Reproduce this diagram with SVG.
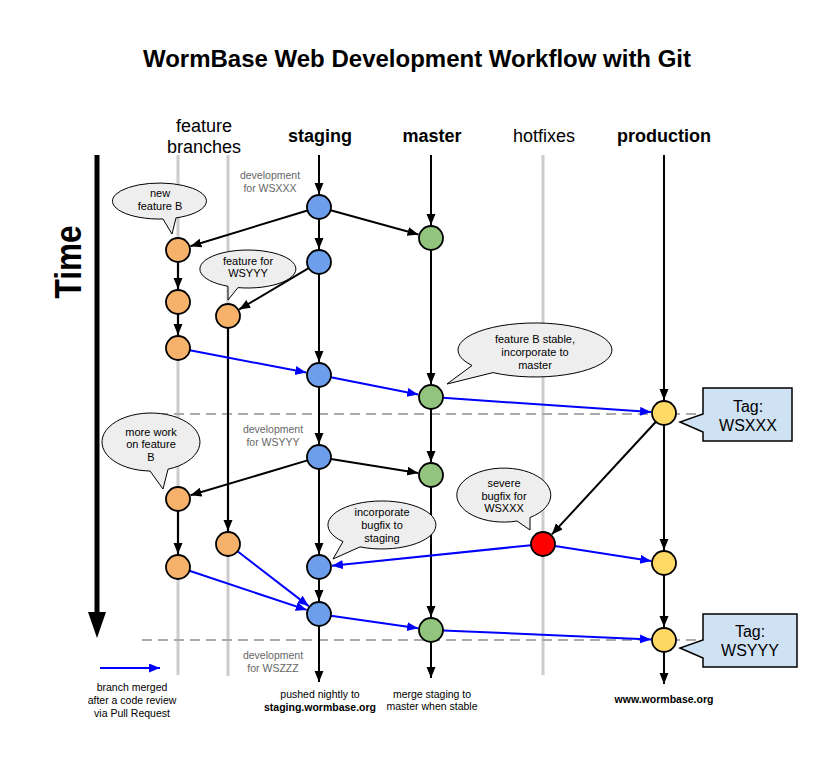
<svg xmlns="http://www.w3.org/2000/svg" width="831" height="759" viewBox="0 0 831 759">
<style>
text{font-family:"Liberation Sans",Arial,sans-serif;}
.title{font-size:24px;font-weight:bold;text-anchor:middle;}
.hdr{font-size:18px;text-anchor:middle;}
.hdrb{font-size:18px;font-weight:bold;text-anchor:middle;}
.dev{font-size:10.5px;fill:#666;text-anchor:middle;}
.small{font-size:10.5px;text-anchor:middle;}
.smallb{font-size:10.5px;font-weight:bold;text-anchor:middle;}
.bt{font-size:11px;text-anchor:middle;}
.tag{font-size:16px;text-anchor:middle;}
.lane{stroke:#cccccc;stroke-width:3;fill:none;}
.sep{stroke:#aaaaaa;stroke-width:2;stroke-dasharray:10,6;fill:none;}
.blk{stroke:#000;stroke-width:2;fill:none;marker-end:url(#ab);}
.blu{stroke:#0000ff;stroke-width:2;fill:none;marker-end:url(#au);}
.n{stroke:#000;stroke-width:1.8;}
.st{fill:#6d9eeb;}
.ma{fill:#93c47d;}
.fe{fill:#f6b26b;}
.pr{fill:#ffd966;}
.hf{fill:#ff0000;}
.bub{fill:#eeeeee;stroke:#000;stroke-width:1;}
.tagbox{fill:#cfe2f3;stroke:#000;stroke-width:1.5;}
</style>
<defs>
<marker id="ab" markerUnits="userSpaceOnUse" markerWidth="12" markerHeight="10" refX="11" refY="4.5" orient="auto"><path d="M0,0 L11,4.5 L0,9 z" fill="#000"/></marker>
<marker id="au" markerUnits="userSpaceOnUse" markerWidth="12" markerHeight="10" refX="11" refY="4.5" orient="auto"><path d="M0,0 L11,4.5 L0,9 z" fill="#0000ff"/></marker>
</defs>
<rect width="831" height="759" fill="#fff"/>
<text class="title" x="417" y="67">WormBase Web Development Workflow with Git</text>
<g id="time-axis">
<line x1="97" y1="155" x2="97" y2="614" stroke="#000" stroke-width="5"/>
<polygon points="88,612 106,612 97,638" fill="#000"/>
<text x="0" y="0" font-size="36" font-weight="bold" textLength="73" lengthAdjust="spacingAndGlyphs" text-anchor="middle" transform="translate(81,262) rotate(-90)">Time</text>
</g>
<g id="headers">
<text class="hdr" x="204" y="132">feature</text>
<text class="hdr" x="204" y="153">branches</text>
<text class="hdrb" x="320" y="142">staging</text>
<text class="hdrb" x="432" y="142">master</text>
<text class="hdr" x="544" y="142">hotfixes</text>
<text class="hdrb" x="664" y="142">production</text>
</g>
<g id="lanes">
<line class="lane" x1="178" y1="155" x2="178" y2="675"/>
<line class="lane" x1="228" y1="155" x2="228" y2="676"/>
<line class="lane" x1="543" y1="155" x2="543" y2="675"/>
<line class="sep" x1="142" y1="414" x2="703" y2="414"/>
<line class="sep" x1="142" y1="640" x2="703" y2="640"/>
</g>
<g id="dev-labels">
<text class="dev" x="270" y="179">development</text>
<text class="dev" x="270" y="192">for WSXXX</text>
<text class="dev" x="273" y="433">development</text>
<text class="dev" x="273" y="446">for WSYYY</text>
<text class="dev" x="273" y="659">development</text>
<text class="dev" x="273" y="672">for WSZZZ</text>
</g>
<g id="connectors">
<line class="blk" x1="319" y1="155" x2="319" y2="194"/>
<line class="blk" x1="431" y1="155" x2="431" y2="225"/>
<line class="blk" x1="664" y1="155" x2="664" y2="400"/>
<line class="blk" x1="319" y1="219" x2="319" y2="249"/>
<line class="blk" x1="319" y1="274" x2="319" y2="362"/>
<line class="blk" x1="319" y1="387" x2="319" y2="444"/>
<line class="blk" x1="319" y1="469" x2="319" y2="554"/>
<line class="blk" x1="319" y1="579" x2="319" y2="601"/>
<line class="blk" x1="319" y1="626" x2="319" y2="682"/>
<line class="blk" x1="330.6" y1="210.2" x2="418.5" y2="234.5"/>
<line class="blk" x1="307.5" y1="210.5" x2="190.4" y2="246.2"/>
<line class="blk" x1="308.7" y1="268.1" x2="239.2" y2="309.4"/>
<line class="blk" x1="178" y1="262" x2="178" y2="289"/>
<line class="blk" x1="178" y1="314" x2="178" y2="335"/>
<line class="blk" x1="228" y1="328" x2="228" y2="531"/>
<line class="blk" x1="431" y1="250" x2="431" y2="384"/>
<line class="blk" x1="431" y1="409" x2="431" y2="462"/>
<line class="blk" x1="431" y1="487" x2="431" y2="617"/>
<line class="blk" x1="431" y1="642" x2="431" y2="678"/>
<line class="blk" x1="330.9" y1="458.9" x2="418.2" y2="472.9"/>
<line class="blk" x1="307.5" y1="460.4" x2="190.5" y2="495.3"/>
<line class="blk" x1="178" y1="511" x2="178" y2="554"/>
<line class="blk" x1="664" y1="425" x2="664" y2="550"/>
<line class="blk" x1="664" y1="575" x2="664" y2="627"/>
<line class="blk" x1="664" y1="652" x2="664" y2="684"/>
<line class="blk" x1="655.9" y1="421.8" x2="551.8" y2="534.4"/>
<line class="blu" x1="189.8" y1="350.3" x2="306.2" y2="372.6"/>
<line class="blu" x1="330.8" y1="377.3" x2="418.2" y2="394.5"/>
<line class="blu" x1="443" y1="397.8" x2="651" y2="412.1"/>
<line class="blu" x1="531.1" y1="545.2" x2="331.9" y2="565.7"/>
<line class="blu" x1="554.9" y1="545.9" x2="651.2" y2="561"/>
<line class="blu" x1="237.5" y1="551.3" x2="308.7" y2="606.1"/>
<line class="blu" x1="189.4" y1="570.8" x2="306.7" y2="609.9"/>
<line class="blu" x1="330.9" y1="615.7" x2="418.1" y2="628.2"/>
<line class="blu" x1="443" y1="630.5" x2="651" y2="639.4"/>
</g>
<g id="n-s1"><circle class="n st" cx="319" cy="207" r="12"/></g>
<g id="n-s2"><circle class="n st" cx="319" cy="262" r="12"/></g>
<g id="n-s3"><circle class="n st" cx="319" cy="375" r="12"/></g>
<g id="n-s4"><circle class="n st" cx="319" cy="457" r="12"/></g>
<g id="n-s5"><circle class="n st" cx="319" cy="567" r="12"/></g>
<g id="n-s6"><circle class="n st" cx="319" cy="614" r="12"/></g>
<g id="n-m1"><circle class="n ma" cx="431" cy="238" r="12"/></g>
<g id="n-m2"><circle class="n ma" cx="431" cy="397" r="12"/></g>
<g id="n-m3"><circle class="n ma" cx="431" cy="475" r="12"/></g>
<g id="n-m4"><circle class="n ma" cx="431" cy="630" r="12"/></g>
<g id="n-f1"><circle class="n fe" cx="178" cy="250" r="12"/></g>
<g id="n-f2"><circle class="n fe" cx="178" cy="302" r="12"/></g>
<g id="n-f3"><circle class="n fe" cx="178" cy="348" r="12"/></g>
<g id="n-f4"><circle class="n fe" cx="178" cy="499" r="12"/></g>
<g id="n-f5"><circle class="n fe" cx="178" cy="567" r="12"/></g>
<g id="n-g1"><circle class="n fe" cx="228" cy="316" r="12"/></g>
<g id="n-g2"><circle class="n fe" cx="228" cy="544" r="12"/></g>
<g id="n-h1"><circle class="n hf" cx="543" cy="544" r="12"/></g>
<g id="n-p1"><circle class="n pr" cx="664" cy="413" r="12"/></g>
<g id="n-p2"><circle class="n pr" cx="664" cy="563" r="12"/></g>
<g id="n-p3"><circle class="n pr" cx="664" cy="640" r="12"/></g>
<g id="bubble-new-feature-b">
<path class="bub" d="M176,217.9 A47,18 0 1 0 163,219 L172,234 Z"/>
<text class="bt" x="160" y="197">new</text>
<text class="bt" x="160" y="210">feature B</text>
</g>
<g id="bubble-feature-wsyyy">
<path class="bub" d="M238,287.6 A48,19 0 1 0 228,286.3 L228,300 Z"/>
<text class="bt" x="248" y="265">feature for</text>
<text class="bt" x="248" y="277">WSYYY</text>
</g>
<g id="bubble-stable">
<path class="bub" d="M493,372.6 A77,27 0 1 0 472,365.5 L447,384 Z"/>
<text class="bt" x="535" y="343">feature B stable,</text>
<text class="bt" x="535" y="356">incorporate to</text>
<text class="bt" x="535" y="369">master</text>
</g>
<g id="bubble-more-work">
<path class="bub" d="M168,469.2 A49,29 0 1 0 150,471 L163,489 Z"/>
<text class="bt" x="151" y="436">more work</text>
<text class="bt" x="151" y="448">on feature</text>
<text class="bt" x="151" y="461">B</text>
</g>
<g id="bubble-incorporate">
<path class="bub" d="M360,546.9 A54,24 0 1 0 343,541.6 L333,559 Z"/>
<text class="bt" x="382" y="516">incorporate</text>
<text class="bt" x="382" y="529">bugfix to</text>
<text class="bt" x="382" y="542">staging</text>
</g>
<g id="bubble-severe">
<path class="bub" d="M530,517.5 A47,27 0 1 0 517,521 L530,530 Z"/>
<text class="bt" x="504" y="487">severe</text>
<text class="bt" x="504" y="500">bugfix for</text>
<text class="bt" x="504" y="512">WSXXX</text>
</g>
<g id="tag-wsxxx">
<path class="tagbox" d="M703,388 H792 V441 H703 V432 L680,422 L703,414 Z"/>
<text class="tag" x="748" y="412">Tag:</text>
<text class="tag" x="748" y="431">WSXXX</text>
</g>
<g id="tag-wsyyy">
<path class="tagbox" d="M703,614 H797 V667 H703 V658 L680,648 L703,640 Z"/>
<text class="tag" x="750" y="637">Tag:</text>
<text class="tag" x="750" y="656">WSYYY</text>
</g>
<g id="legend">
<line class="blu" x1="100" y1="668" x2="160" y2="668"/>
<text class="small" x="132" y="691">branch merged</text>
<text class="small" x="132" y="704">after a code review</text>
<text class="small" x="132" y="717">via Pull Request</text>
</g>
<g id="footer-labels">
<text class="small" x="320" y="698">pushed nightly to</text>
<text class="smallb" x="320" y="711">staging.wormbase.org</text>
<text class="small" x="432" y="698">merge staging to</text>
<text class="small" x="432" y="710">master when stable</text>
<text class="smallb" x="664" y="703">www.wormbase.org</text>
</g>
</svg>
